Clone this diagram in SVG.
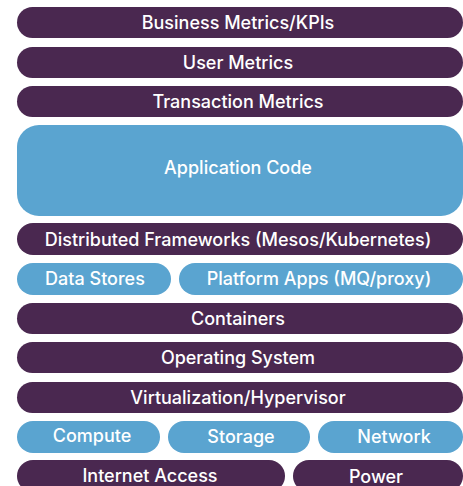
<svg xmlns="http://www.w3.org/2000/svg" width="463" height="486" viewBox="0 0 463 486">
<style>
.p{fill:#4a2850}
.b{fill:#5aa4d0}
text{fill:#fff;font-family:Inter,"Liberation Sans",Arial,sans-serif;font-weight:500;font-size:18px;text-anchor:middle}
</style>
<rect width="463" height="486" fill="#fff"/>
<g id="business"><rect class="p" x="17" y="7" width="446" height="31" rx="15.5"/><text x="238" y="29">Business Metrics/KPIs</text></g>
<g id="user"><rect class="p" x="17" y="47" width="446" height="31" rx="15.5"/><text x="238" y="69">User Metrics</text></g>
<g id="transaction"><rect class="p" x="17" y="86" width="446" height="31" rx="15.5"/><text x="238" y="108">Transaction Metrics</text></g>
<g id="app"><rect class="b" x="17" y="125" width="446" height="91" rx="22"/><text x="238" y="174">Application Code</text></g>
<g id="distributed"><rect class="p" x="17" y="223" width="446" height="32" rx="16"/><text x="238" y="246">Distributed Frameworks (Mesos/Kubernetes)</text></g>
<g id="datastores"><rect class="b" x="17" y="263" width="154" height="32" rx="16"/><text x="95" y="285">Data Stores</text></g>
<g id="platform"><rect class="b" x="179" y="263" width="284" height="32" rx="16"/><text x="319" y="285">Platform Apps (MQ/proxy)</text></g>
<g id="containers"><rect class="p" x="17" y="303" width="446" height="31" rx="15.5"/><text x="238" y="325">Containers</text></g>
<g id="os"><rect class="p" x="17" y="342" width="446" height="31" rx="15.5"/><text x="238" y="364">Operating System</text></g>
<g id="virt"><rect class="p" x="17" y="382" width="446" height="31" rx="15.5"/><text x="238" y="404">Virtualization/Hypervisor</text></g>
<g id="compute"><rect class="b" x="17" y="421" width="143" height="32" rx="16"/><text x="92" y="442">Compute</text></g>
<g id="storage"><rect class="b" x="168" y="421" width="142" height="32" rx="16"/><text x="241" y="443">Storage</text></g>
<g id="network"><rect class="b" x="318" y="421" width="145" height="32" rx="16"/><text x="394" y="443">Network</text></g>
<g id="internet"><rect class="p" x="17" y="460" width="268" height="32" rx="16"/><text x="150" y="482">Internet Access</text></g>
<g id="power"><rect class="p" x="293" y="460" width="170" height="32" rx="16"/><text x="376" y="483">Power</text></g>
<g id="connectors"/>
</svg>
